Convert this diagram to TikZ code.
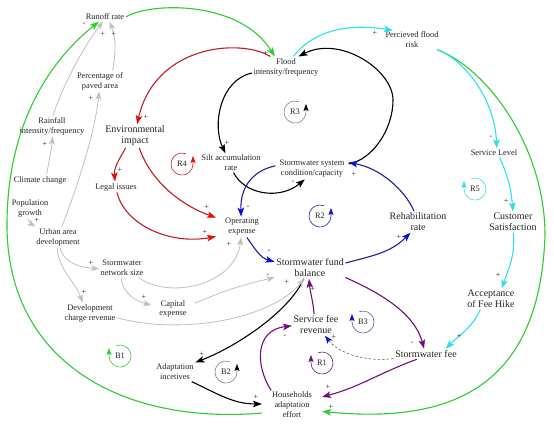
\documentclass[tikz,border=0pt]{standalone}
\usepackage{fontspec}
\setmainfont{Liberation Serif}
\usetikzlibrary{arrows.meta}

\definecolor{cldgreen}{RGB}{45,205,45}
\definecolor{cldcyan}{RGB}{45,225,235}
\definecolor{cldred}{RGB}{190,30,35}
\definecolor{cldredhead}{RGB}{235,10,10}
\definecolor{cldblue}{RGB}{30,30,150}
\definecolor{cldbluehead}{RGB}{10,10,225}
\definecolor{cldpurple}{RGB}{110,15,120}
\definecolor{cldgray}{RGB}{192,192,192}
\definecolor{cldtext}{RGB}{35,35,35}

\tikzset{
  var/.style={font=\fontsize{8.4}{10}\selectfont, align=center, inner sep=1.5pt, text=cldtext},
  bigvar/.style={font=\fontsize{10}{11}\selectfont, align=center, inner sep=1.5pt, text=cldtext},
  sgn/.style={font=\fontsize{8}{8}\selectfont, inner sep=0pt, text=cldtext},
  lpl/.style={font=\fontsize{8.4}{9}\selectfont, inner sep=0pt, text=cldtext},
  grn/.style={line width=1.1pt, cldgreen, -{Stealth[length=9pt,width=6.5pt,inset=2pt]}},
  cyn/.style={line width=1.1pt, cldcyan, -{Stealth[length=9pt,width=6.5pt,inset=2pt]}},
  blk/.style={line width=1.1pt, black, -{Stealth[length=9pt,width=6.5pt,inset=2pt]}},
  rd/.style={line width=1.1pt, cldred, -{Stealth[length=9pt,width=6.5pt,inset=2pt,color=cldredhead]}},
  blu/.style={line width=1.1pt, cldblue, -{Stealth[length=9pt,width=6.5pt,inset=2pt,color=cldbluehead]}},
  prp/.style={line width=1.1pt, cldpurple, -{Stealth[length=9pt,width=6.5pt,inset=2pt]}},
  gry/.style={line width=0.8pt, cldgray, -{Stealth[length=8pt,width=6pt,inset=2pt]}},
  dsh/.style={line width=0.6pt, gray!70!black, dash pattern=on 2.5pt off 2pt,
    -{Stealth[length=8pt,width=6pt,inset=2pt,color=cldbluehead]}}
}

\begin{document}
\begin{tikzpicture}[x=1pt,y=1pt]
  \useasboundingbox (0,0) rectangle (554,-426);

  % Variables
  \node[var] (runoff) at (105,-17) {Runoff rate};
  \node[var] (flood) at (286,-67) {Flood\\intensity/frequency};
  \node[var] (risk) at (412,-40) {Percieved flood\\risk};
  \node[var] (paved) at (100,-81) {Percentage of\\paved area};
  \node[var] (rain) at (52,-126) {Rainfall\\intensity/frequency};
  \node[bigvar] (env) at (135,-136) {Environmental\\impact};
  \node[var] (climate) at (40,-180) {Climate change};
  \node[var] (legal) at (116,-187) {Legal issues};
  \node[var] (pop) at (30,-208) {Population\\growth};
  \node[var] (urban) at (58,-237) {Urban area\\development};
  \node[var] (network) at (122,-268) {Stormwater\\network size};
  \node[var] (silt) at (231,-163) {Silt accumulation\\rate};
  \node[var, inner xsep=4pt] (system) at (312,-169) {Stormwater system\\condition/capacity};
  \node[var, inner xsep=9pt] (opex) at (242,-227) {Operating\\expense};
  \node[bigvar] (fund) at (310,-268) {Stormwater fund\\balance};
  \node[bigvar] (rehab) at (418,-222) {Rehabilitation\\rate};
  \node[var] (level) at (494,-153) {Service Level};
  \node[bigvar] (satisf) at (513,-222) {Customer\\Satisfaction};
  \node[bigvar] (accept) at (491,-299) {Acceptance\\of Fee Hike};
  \node[bigvar] (fee) at (426,-354) {Stormwater fee};
  \node[bigvar] (revenue) at (316,-325) {Service fee\\revenue};
  \node[var, inner xsep=10pt] (house) at (292,-405) {Households\\adaptation\\effort};
  \node[var] (incent) at (175,-372) {Adaptation\\incetives};
  \node[var] (devch) at (90,-313) {Development\\charge revenue};
  \node[var, font=\fontsize{8.4}{8.5}\selectfont, inner xsep=8pt] (capex) at (173,-309) {Capital\\expense};

  % Green links
  \draw[grn] (house.195) .. controls (120,-425) and (7,-360) .. (7,-225)
    .. controls (7,-130) and (45,-65) .. (runoff.217);
  \draw[grn] (runoff.east) .. controls (150,-2) and (240,0) .. (flood.137);
  \draw[grn] (risk.339) .. controls (490,-70) and (545,-150) .. (545,-235)
    .. controls (540,-380) and (460,-425) .. (house.-12);

  % Cyan links
  \draw[cyn] (flood.55) .. controls (310,-35) and (340,-22) .. (risk.153);
  \draw[cyn] (risk.339) .. controls (465,-60) and (495,-100) .. (level.60);
  \draw[cyn] (level.-40) to[out=-65,in=95] (satisf.north);
  \draw[cyn] (satisf.-88) to[out=-85,in=70] (accept.45);
  \draw[cyn] (accept.225) to[out=-115,in=45] (fee.15);

  % Black links
  \draw[blk] (flood.190) .. controls (220,-80) and (212,-125) .. (silt.120);
  \draw[blk] (system.8) .. controls (372,-160) and (393,-130) .. (393,-100)
    .. controls (393,-70) and (340,-35) .. (flood.40);
  \draw[blk] (silt.-75) .. controls (245,-195) and (280,-200) .. (system.235);
  \draw[blk] (fund.240) .. controls (290,-310) and (240,-345) .. (incent.25);
  \draw[blk] (incent.-30) to[out=-25,in=180] (house.178);

  % Red links
  \draw[rd] (flood.146) .. controls (240,-38) and (155,-45) .. (env.80);
  \draw[rd] (env.232) to[out=-120,in=95] (legal.100);
  \draw[rd] (env.-70) .. controls (150,-180) and (180,-205) .. (opex.160);
  \draw[rd] (legal.-80) .. controls (125,-225) and (170,-245) .. (opex.200);

  % Blue links
  \draw[blu] (system.175) .. controls (255,-170) and (240,-185) .. (opex.95);
  \draw[blu] (opex.-65) to[out=-55,in=165] (fund.170);
  \draw[blu] (fund.8) to[out=15,in=225] (rehab.235);
  \draw[blu] (rehab.110) .. controls (405,-190) and (380,-168) .. (system.10);
  \draw[dsh] (fee.188) .. controls (370,-362) and (340,-355) .. (revenue.-50);

  % Purple links
  \draw[prp] (fund.-15) .. controls (385,-295) and (415,-315) .. (fee.110);
  \draw[prp] (fee.-150) to[out=-160,in=15] (house.15);
  \draw[prp] (house.145) .. controls (255,-365) and (255,-330) .. (revenue.182);
  \draw[prp] (revenue.100) to[out=95,in=-85] (fund.-95);

  % Grey links
  \draw[gry] (rain.85) .. controls (65,-80) and (85,-45) .. (runoff.245);
  \draw[gry] (paved.40) to[out=80,in=-70] (runoff.-45);
  \draw[gry] (climate.40) to[out=80,in=-95] (rain.-87);
  \draw[gry] (urban.70) .. controls (82,-175) and (96,-125) .. (paved.-95);
  \draw[gry] (pop.-100) to[out=-80,in=150] (urban.155);
  \draw[gry] (urban.-80) to[out=-75,in=175] (network.182);
  \draw[gry] (urban.-95) to[out=-85,in=110] (devch.125);
  \draw[gry] (network.-30) .. controls (170,-300) and (235,-285) .. (opex.-95);
  \draw[gry] (network.-95) to[out=-85,in=165] (capex.170);
  \draw[gry] (capex.15) to[bend left=5] (fund.195);
  \draw[gry] (devch.-10) .. controls (180,-335) and (270,-320) .. (fund.242);

  % Polarity signs
  \foreach \sx/\sy/\sv [count=\i] in {84/24/-, 103/34/+, 114/34/+, 91/98/+, 45/144/+,
      146/117/+, 266/53/+, 227/143/+, 375/33/+, 491/137/-, 506/201/+, 498/275/+,
      459/336/+, 120/170/+, 207/207/+, 205/232/+, 229/244/+, 248/207/-, 293/182/-,
      354/174/+, 269/251/-, 399/237/+, 37/220/+, 91/263/+, 84/292/+, 144/297/+,
      268/275/-, 287/282/+, 313/289/+, 412/343/-, 334/337/+, 285/336/-, 328/387/+,
      331/407/+, 256/397/+, 202/354/+}
    \node[sgn] (sg\i) at (\sx,-\sy) {\sv};

  % Loop markers
  \foreach \nm/\lx/\ly/\lc/\hc/\sa/\ea in {R3/295/112/gray/black/70/360,
      R4/182/164/cldred/cldredhead/70/360, R2/320/216/cldblue/cldbluehead/70/360,
      R5/475/189/cldcyan/cldcyan/110/-180, B3/363/322/gray!70!blue/cldbluehead/110/-180,
      R1/322/363/cldpurple/cldpurple/110/-180, B2/226/372/gray/black/70/360,
      B1/120/356/cldgreen/cldgreen/110/-180}
  {
    \node[lpl] (\nm) at (\lx,-\ly) {\nm};
    \draw[\lc, line width=0.6pt, shift={(\nm.center)},
      -{Stealth[length=7pt,width=5pt,inset=1.5pt,color=\hc]}]
      (\sa:11) arc[start angle=\sa, end angle=\ea, radius=11] -- ++(0,8);
  }
\end{tikzpicture}
\end{document}
